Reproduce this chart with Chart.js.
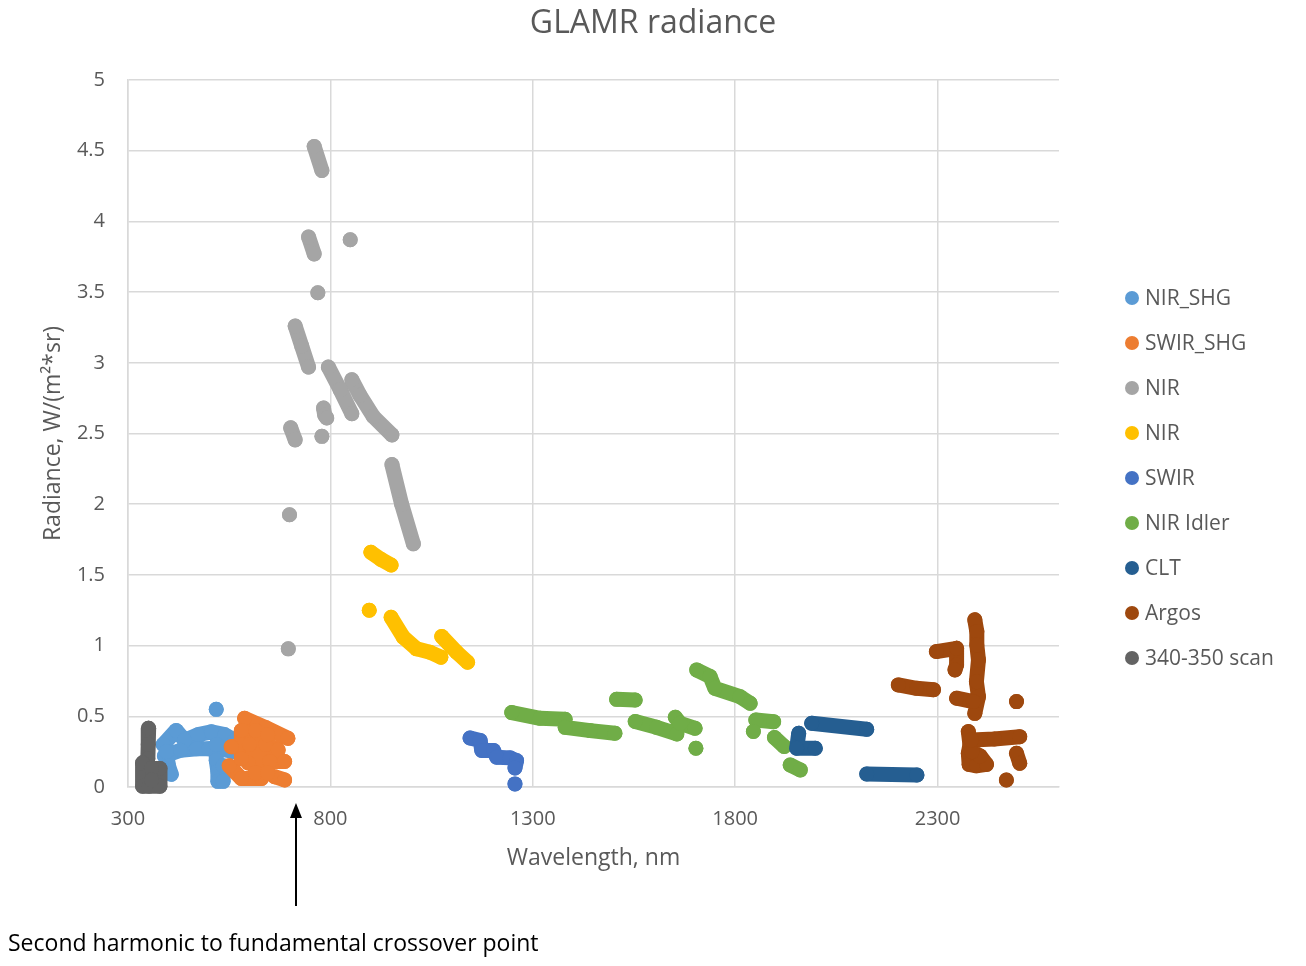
<!DOCTYPE html>
<html>
<head>
<meta charset="utf-8">
<script src="https://cdn.jsdelivr.net/npm/chart.js@4.4.1/dist/chart.umd.min.js"></script>
<style>
html,body{margin:0;padding:0;background:#ffffff;}
#wrap{width:1306px;height:966px;position:relative;}
</style>
</head>
<body>
<div id="wrap"><canvas id="c" width="1306" height="966"></canvas></div>
<script>
// ---------------- data ----------------
const chartTitle = 'GLAMR radiance';
const xTitle = 'Wavelength, nm';
const yTitle = 'Radiance, W/(m\u00B2*sr)';
const annotationText = 'Second harmonic to fundamental crossover point';
const crossoverWl = 715;

const seriesNames = ['NIR_SHG', 'SWIR_SHG', 'NIR', 'NIR', 'SWIR', 'NIR Idler', 'CLT', 'Argos', '340-350 scan'];
const seriesColors = ['#5B9BD5', '#ED7D31', '#A5A5A5', '#FFC000', '#4472C4', '#70AD47', '#255E91', '#9E480E', '#636363'];

const xTicks = [300, 800, 1300, 1800, 2300];
const yTicks = [0, 0.5, 1, 1.5, 2, 2.5, 3, 3.5, 4, 4.5, 5];

// null = break between runs of readings
const nirShgWl  = [518, null, 387, 419, 440, 473, 506, 539, 564, null, 390, 430, 470, 500, 530, 560, null, 395, 400, 407, 385, null, 518, 518, 522, 522, 535, 535];
const nirShgRad = [0.549, null, 0.30, 0.40, 0.33, 0.37, 0.39, 0.37, 0.33, null, 0.22, 0.26, 0.27, 0.27, 0.27, 0.25, null, 0.25, 0.15, 0.09, 0.12, null, 0.30, 0.19, 0.11, 0.04, 0.04, 0.15];

const swirShgWl  = [588, 640, 695, null, 555, 600, 640, 671, null, 550, 580, 630, null, 597, 650, 687, null, 662, 687, null, 580, 580, null, 615, 615, null, 645, 645];
const swirShgRad = [0.486, 0.42, 0.344, null, 0.285, 0.30, 0.30, 0.262, null, 0.15, 0.06, 0.06, null, 0.17, 0.18, 0.18, null, 0.073, 0.05, null, 0.40, 0.20, null, 0.40, 0.10, null, 0.37, 0.10];

const nirGrayWl  = [760, 779, null, 746, 760, null, 849, null, 769, null, 713, 729, 746, null, 795, 824, 853, null, 853, 873, 906, 952, null, 783, 786, 791, null, 779, null, 702, 713, null, 699, null, 696, null, 952, 976, 1005];
const nirGrayRad = [4.53, 4.36, null, 3.89, 3.77, null, 3.87, null, 3.495, null, 3.26, 3.12, 2.97, null, 2.97, 2.81, 2.64, null, 2.88, 2.77, 2.62, 2.49, null, 2.68, 2.63, 2.61, null, 2.48, null, 2.54, 2.455, null, 1.925, null, 0.977, null, 2.28, 2.0, 1.72];

const nirYellowWl  = [900, 925, 950, null, 896, null, 950, 980, 1013, 1046, 1073, null, 1075, 1112, 1139];
const nirYellowRad = [1.66, 1.61, 1.57, null, 1.25, null, 1.2, 1.06, 0.977, 0.953, 0.918, null, 1.064, 0.953, 0.882];

const swirWl  = [1145, 1170, 1174, 1203, 1211, 1244, 1260, 1256, null, 1256];
const swirRad = [0.347, 0.328, 0.258, 0.258, 0.211, 0.206, 0.187, 0.135, null, 0.022];

const idlerWl  = [1248, 1318, 1380, null, 1380, 1442, 1503, null, 1507, 1553, null, 1553, 1606, 1656, null, 1652, 1664, 1701, null, 1703, null, 1705, 1738, 1750, 1812, 1837, null, 1851, 1895, null, 1845, null, 1897, 1921, null, 1936, 1961];
const idlerRad = [0.526, 0.486, 0.479, null, 0.422, 0.399, 0.38, null, 0.62, 0.615, null, 0.463, 0.422, 0.375, null, 0.493, 0.451, 0.415, null, 0.274, null, 0.828, 0.781, 0.698, 0.639, 0.592, null, 0.474, 0.462, null, 0.392, null, 0.35, 0.286, null, 0.156, 0.121];

const cltWl  = [1957, 1952, 1998, null, 1989, 2125, null, 2125, 2249];
const cltRad = [0.38, 0.274, 0.274, null, 0.451, 0.408, null, 0.092, 0.085];

const argosWl  = [2203, 2248, 2290, null, 2297, 2347, 2347, 2343, null, 2392, 2397, 2397, 2401, 2396, 2401, 2392, null, 2347, 2388, null, 2495, null, 2376, 2380, 2376, 2378, 2396, 2421, 2405, 2385, null, 2384, 2440, 2503, null, 2495, 2503, null, 2470];
const argosRad = [0.722, 0.698, 0.688, null, 0.958, 0.981, 0.863, 0.828, null, 1.182, 1.099, 1.005, 0.899, 0.745, 0.639, 0.521, null, 0.628, 0.604, null, 0.604, null, 0.392, 0.30, 0.239, 0.16, 0.15, 0.16, 0.22, 0.25, null, 0.333, 0.34, 0.356, null, 0.239, 0.168, null, 0.05];

const scanWl  = [351, 350, 349, 336, 336, 352, 379, 379, 358, 358];
const scanRad = [0.415, 0.3, 0.2, 0.17, 0.005, 0.005, 0.005, 0.13, 0.13, 0.05];

// ---------------- chart ----------------
const FONT = "'Open Sans', 'Noto Sans', sans-serif";
const TEXT = '#595959';
const GRID = '#d9d9d9';

const seriesWl  = [nirShgWl, swirShgWl, nirGrayWl, nirYellowWl, swirWl, idlerWl, cltWl, argosWl, scanWl];
const seriesRad = [nirShgRad, swirShgRad, nirGrayRad, nirYellowRad, swirRad, idlerRad, cltRad, argosRad, scanRad];

const datasets = seriesNames.map((name, i) => ({
  label: name,
  data: seriesWl[i].map((x, j) => ({ x: x, y: seriesRad[i][j] })),
  showLine: true,
  spanGaps: false,
  borderColor: seriesColors[i],
  backgroundColor: seriesColors[i],
  borderWidth: 15,
  borderCapStyle: 'round',
  borderJoinStyle: 'round',
  pointRadius: 7.5,
  pointBorderWidth: 0,
  pointHoverRadius: 7.5,
  clip: false,
  order: seriesNames.length - i
}));

const overlay = {
  id: 'overlay',
  afterDraw(chart) {
    const ctx = chart.ctx;
    ctx.save();
    // title, centred on the whole picture
    ctx.font = '32px ' + FONT;
    ctx.fillStyle = TEXT;
    ctx.textAlign = 'center';
    ctx.textBaseline = 'middle';
    ctx.fillText(chartTitle, chart.width / 2, 24);
    // legend
    ctx.font = '21px ' + FONT;
    ctx.textBaseline = 'middle';
    ctx.textAlign = 'left';
    chart.data.datasets.forEach((ds, i) => {
      const y = 298 + i * 45;
      ctx.beginPath();
      ctx.fillStyle = ds.backgroundColor;
      ctx.arc(1132, y, 7, 0, Math.PI * 2);
      ctx.fill();
      ctx.fillStyle = TEXT;
      ctx.fillText(ds.label, 1145, y + 1);
    });
    // annotation arrow
    const ax = chart.scales.x.getPixelForValue(crossoverWl);
    ctx.strokeStyle = '#000';
    ctx.fillStyle = '#000';
    ctx.lineWidth = 2;
    ctx.beginPath();
    ctx.moveTo(ax, 906);
    ctx.lineTo(ax, 815);
    ctx.stroke();
    ctx.beginPath();
    ctx.moveTo(ax, 803);
    ctx.lineTo(ax - 6, 818);
    ctx.lineTo(ax + 6, 818);
    ctx.closePath();
    ctx.fill();
    // annotation text
    ctx.font = '23px ' + FONT;
    ctx.fillStyle = '#000';
    ctx.textAlign = 'left';
    ctx.textBaseline = 'middle';
    ctx.fillText(annotationText, 8, 944);
    ctx.restore();
  }
};

new Chart(document.getElementById('c'), {
  type: 'scatter',
  data: { datasets: datasets },
  options: {
    responsive: false,
    animation: false,
    devicePixelRatio: 1,
    events: [],
    layout: { padding: { left: 0, right: 247, top: 80, bottom: 0 } },
    plugins: {
      legend: { display: false },
      tooltip: { enabled: false },
      title: { display: false }
    },
    scales: {
      x: {
        type: 'linear',
        min: 300,
        max: 2600,
        afterBuildTicks: (s) => { s.ticks = xTicks.map(v => ({ value: v })); },
        afterFit: (s) => { s.height = 179; },
        ticks: { color: TEXT, font: { family: FONT, size: 20 }, padding: 20, maxRotation: 0, callback: (v) => String(v) },
        grid: { color: GRID, lineWidth: 1.5, drawTicks: false },
        border: { color: GRID, width: 1.5 },
        title: { display: true, text: xTitle, color: TEXT, font: { family: FONT, size: 23 }, padding: { top: 0, bottom: 94 } }
      },
      y: {
        type: 'linear',
        min: 0,
        max: 5,
        afterBuildTicks: (s) => { s.ticks = yTicks.map(v => ({ value: v })); },
        afterFit: (s) => { s.width = 128; },
        ticks: { color: TEXT, font: { family: FONT, size: 20 }, padding: 23, callback: (v) => String(v) },
        grid: { color: GRID, lineWidth: 1.5, drawTicks: false },
        border: { color: GRID, width: 1.5 },
        title: { display: true, text: yTitle, color: TEXT, font: { family: FONT, size: 23 }, padding: { top: 40, bottom: 0 } }
      }
    }
  },
  plugins: [overlay]
});
</script>
</body>
</html>
